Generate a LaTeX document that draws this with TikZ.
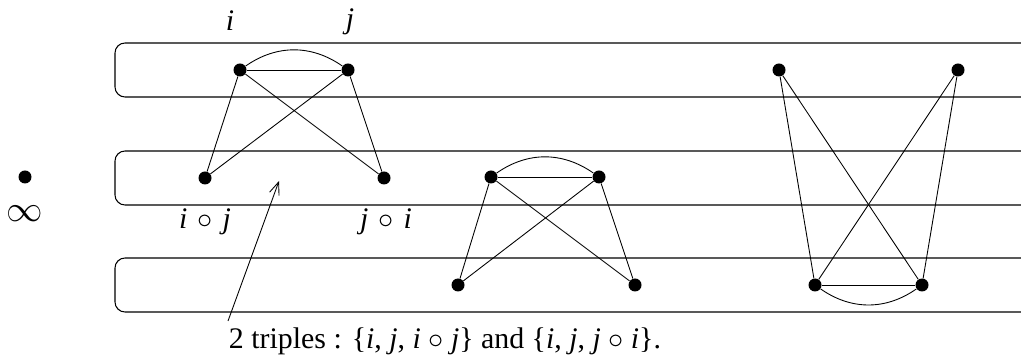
\documentclass[tikz,border=0pt]{standalone}
\usepackage{fontspec}
\setmainfont{Liberation Serif}
\usepackage{tikz}
\usetikzlibrary{arrows.meta, positioning, calc}

\tikzset{
  vtx/.style={circle, fill=black, inner sep=0pt, minimum size=0.26cm},
  band/.style={draw, line width=0.6pt, rounded corners=0.2cm},
  edge/.style={line width=0.5pt},
  lbl/.style={font=\fontsize{17}{20}\selectfont}
}
\newcommand{\opc}{\hspace{0.2cm}$\circ$\hspace{0.2cm}}

\begin{document}
\begin{tikzpicture}
\useasboundingbox (0,0) rectangle (20.42,7.28);

% the three bands
\draw[band] (20.8,6.42) -- (2.3,6.42) -- (2.3,5.34) -- (20.8,5.34);
\draw[band] (20.8,4.26) -- (2.3,4.26) -- (2.3,3.18) -- (20.8,3.18);
\draw[band] (20.8,2.12) -- (2.3,2.12) -- (2.3,1.04) -- (20.8,1.04);

% point at infinity
\node[vtx] (inf) at (0.5,3.74) {};
\node[lbl, font=\fontsize{21}{22}\selectfont] (infl) at (0.5,3.0) {$\infty$};

% first graph
\node[vtx] (i) at (4.8,5.88) {};
\node[vtx] (j) at (6.96,5.88) {};
\node[vtx] (ij) at (4.1,3.72) {};
\node[vtx] (ji) at (7.68,3.72) {};
\node[lbl] (il) at (4.6,6.86) {\textit{i}};
\node[lbl] (jl) at (7.0,6.84) {\textit{j}};
\node[lbl] (ijl) at (4.1,2.84) {\textit{i}\opc\textit{j}};
\node[lbl] (jil) at (7.72,2.84) {\textit{j}\opc\textit{i}};
\draw[edge] (i) -- (j);
\draw[edge] (i) to[bend left=35] (j);
\draw[edge] (i) -- (ij);
\draw[edge] (i) -- (ji);
\draw[edge] (j) -- (ij);
\draw[edge] (j) -- (ji);

% second graph
\node[vtx] (a1) at (9.82,3.74) {};
\node[vtx] (a2) at (11.98,3.74) {};
\node[vtx] (b1) at (9.16,1.58) {};
\node[vtx] (b2) at (12.7,1.58) {};
\draw[edge] (a1) -- (a2);
\draw[edge] (a1) to[bend left=35] (a2);
\draw[edge] (a1) -- (b1);
\draw[edge] (a1) -- (b2);
\draw[edge] (a2) -- (b1);
\draw[edge] (a2) -- (b2);

% third graph
\node[vtx] (c1) at (15.58,5.88) {};
\node[vtx] (c2) at (19.16,5.88) {};
\node[vtx] (d1) at (16.3,1.58) {};
\node[vtx] (d2) at (18.44,1.58) {};
\draw[edge] (d1) -- (d2);
\draw[edge] (d1) to[bend right=35] (d2);
\draw[edge] (c1) -- (d1);
\draw[edge] (c1) -- (d2);
\draw[edge] (c2) -- (d1);
\draw[edge] (c2) -- (d2);

% caption and arrow
\node[lbl] (cap) at (8.9,0.46) {2 triples : \{\textit{i}, \textit{j}, \textit{i} $\circ$ \textit{j}\} and \{\textit{i}, \textit{j}, \textit{j} $\circ$ \textit{i}\}.};
\coordinate (start) at (4.56,0.86);
\coordinate (tip) at (5.58,3.66);
\draw[edge, -{Straight Barb[length=0.25cm, width=0.2cm]}] (start) -- (tip);
\end{tikzpicture}
\end{document}
